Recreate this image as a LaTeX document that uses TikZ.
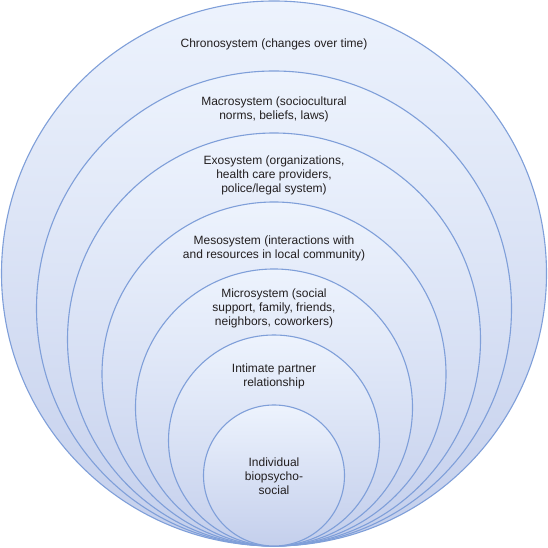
\documentclass[tikz,border=0pt]{standalone}
\usepackage{fontspec}
\setmainfont{Liberation Sans}
\definecolor{linec}{HTML}{7F9FD9}
\definecolor{topc}{HTML}{EDF3FD}
\definecolor{botc}{HTML}{C4CFEC}
\definecolor{txtc}{HTML}{231F20}
\begin{document}
\begin{tikzpicture}[x=1pt,y=1pt,
  ring/.style={draw=linec, line width=1.1pt, top color=topc, bottom color=botc},
  lbl/.style={align=center, text=txtc, inner sep=0pt,
    font=\fontsize{12}{14}\selectfont}]
\useasboundingbox (0,0) rectangle (548,548);
% circles (image y measured from top; y = 548 - y_img)
\path[ring] (274,{548-273.5}) circle (272.5);
\path[ring] (274,{548-308.5}) circle (237.5);
\path[ring] (274,{548-339.5}) circle (206.5);
\path[ring] (274,{548-374}) circle (172);
\path[ring] (274,{548-407.5}) circle (138.5);
\path[ring] (274,{548-440.5}) circle (105.5);
\path[ring] (274,{548-475.5}) circle (70.5);
% labels
\node[lbl] (chrono) at (274,{548-44}) {Chronosystem (changes over time)};
\node[lbl] (macro) at (274,{548-109}) {Macrosystem (sociocultural\\norms, beliefs, laws)};
\node[lbl] (exo) at (274,{548-175}) {Exosystem (organizations,\\health care providers,\\police/legal system)};
\node[lbl] (meso) at (274,{548-248}) {Mesosystem (interactions with\\and resources in local community)};
\node[lbl] (micro) at (274,{548-308}) {Microsystem (social\\support, family, friends,\\neighbors, coworkers)};
\node[lbl] (intimate) at (274,{548-376}) {Intimate partner\\relationship};
\node[lbl] (indiv) at (274,{548-476}) {Individual\\biopsycho-\\social};
\end{tikzpicture}
\end{document}
